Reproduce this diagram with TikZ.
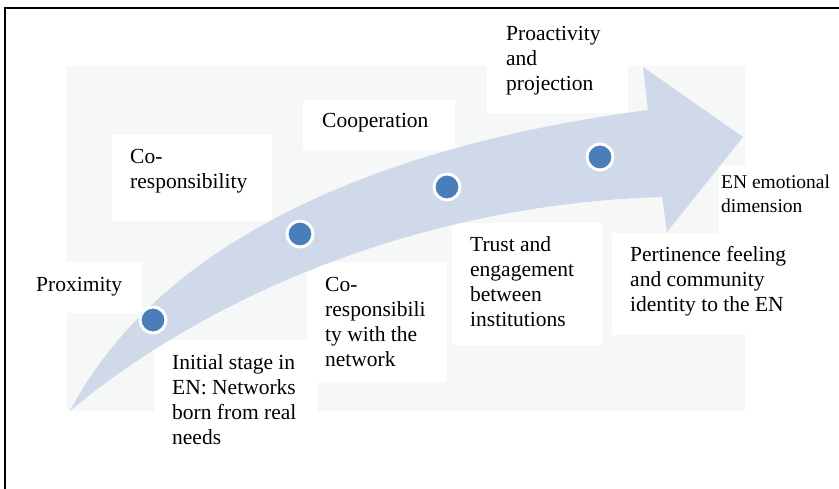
\documentclass[tikz,border=0pt]{standalone}
\usepackage{fontspec}
\setmainfont{Liberation Serif}
\definecolor{bgpanel}{RGB}{246,248,248}
\definecolor{bandblue}{RGB}{207,217,234}
\definecolor{dotblue}{RGB}{74,126,187}
\begin{document}
\begin{tikzpicture}[x=1pt,y=-1pt,
  frameline/.style={line width=1.2pt, draw=black},
  panel/.style={fill=bgpanel},
  whitebox/.style={fill=white},
  band/.style={fill=bandblue},
  stage/.style={circle, fill=dotblue, draw=white, line width=3pt, minimum size=26pt, inner sep=0pt},
  lbl/.style={anchor=north west, inner sep=0pt, align=left, text=black, font=\fontsize{21.5}{25}\selectfont},
  smalllbl/.style={lbl, font=\fontsize{19.5}{24}\selectfont}]
\useasboundingbox (0,0) rectangle (839,489);
% frame
\draw[frameline] (5,489) -- (5,8) -- (839,8);
% light panel
\fill[panel] (67,66) rectangle (745,411);
% white boxes behind the texts
\fill[whitebox] (112,135) rectangle (272,221);
\fill[whitebox] (303,100) rectangle (455,150);
\fill[whitebox] (487,60) rectangle (628,113);
\fill[whitebox] (719,165) rectangle (750,233);
\fill[whitebox] (60,262) rectangle (142,313);
\fill[whitebox] (154,340) rectangle (318,420);
\fill[whitebox] (307,262) rectangle (447,382);
\fill[whitebox] (452,223) rectangle (602,345);
\fill[whitebox] (612,233) rectangle (750,335);
% curved arrow
\fill[band] (70,411) .. controls (160,240) and (380,145) .. (648,110)
  -- (643,67) -- (743,137) -- (667,232) -- (662,197)
  .. controls (400,205) and (190,310) .. (70,411) -- cycle;
% stage dots
\node[stage] (d1) at (153,320) {};
\node[stage] (d2) at (300,234) {};
\node[stage] (d3) at (447,187) {};
\node[stage] (d4) at (600,157) {};
% texts
\node[lbl] (proact) at (506,22.5) {\strut Proactivity\\and\\projection};
\node[lbl] (coresp) at (130,145.5) {\strut Co-\\responsibility};
\node[lbl] (coop) at (322,109.5) {\strut Cooperation};
\node[lbl] (prox) at (36,273.5) {\strut Proximity};
\node[lbl] (corespnet) at (325,273.5) {\strut Co-\\responsibili\\ty with the\\network};
\node[lbl] (initial) at (172,351.5) {\strut Initial stage in\\EN: Networks\\born from real\\needs};
\node[lbl] (trust) at (470,233.5) {\strut Trust and\\engagement\\between\\institutions};
\node[lbl] (pert) at (630,243.5) {\strut Pertinence feeling\\and community\\identity to the EN};
\node[smalllbl] (emo) at (721,171.2) {\strut EN emotional\\dimension};
\end{tikzpicture}
\end{document}
